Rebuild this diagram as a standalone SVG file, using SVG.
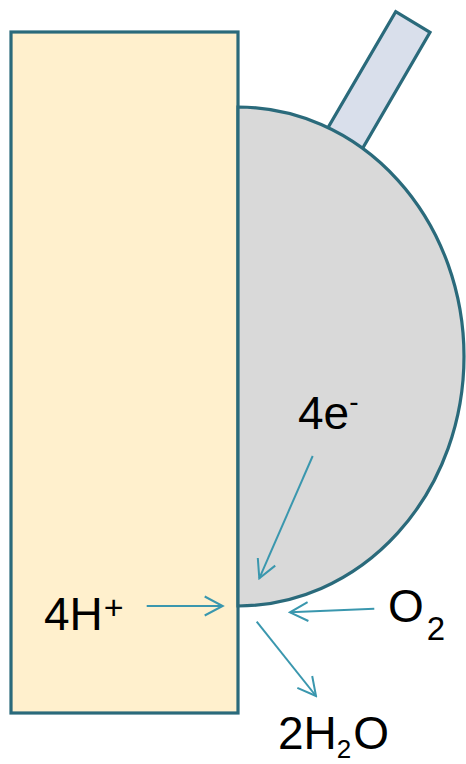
<svg xmlns="http://www.w3.org/2000/svg" width="466" height="764" viewBox="0 0 466 764">
<defs>
<style>
.shape{stroke:#2a6a7b;stroke-width:3.2;stroke-linejoin:miter}
.arr{stroke:#3a97ae;stroke-width:2;fill:none}
text{font-family:"Liberation Sans",Arial,sans-serif;font-size:46px;fill:#000}
</style>
<marker id="ah" markerUnits="userSpaceOnUse" markerWidth="22" markerHeight="22" viewBox="0 0 22 22" refX="20" refY="11" orient="auto">
<path d="M2,1.5 L20,11 L2,20.5" fill="none" stroke="#3a97ae" stroke-width="2"/>
</marker>
</defs>
<g id="electrolyte">
<rect class="shape" x="11" y="32" width="227" height="681" fill="#fff0cd"/>
</g>
<g id="tube">
<polygon class="shape" points="395.7,11.7 430,32.3 350,170 315,150" fill="#d9dfeb"/>
</g>
<g id="particle">
<path class="shape" d="M238,107 A226,249.5 0 0 1 238,606 Z" fill="#d9d9d9"/>
</g>
<g id="connectors">
<line class="arr" x1="312.7" y1="456" x2="259.3" y2="578.3" marker-end="url(#ah)"/>
<line class="arr" x1="146.7" y1="606" x2="222.7" y2="606" marker-end="url(#ah)"/>
<line class="arr" x1="374.3" y1="608.7" x2="290" y2="612.3" marker-end="url(#ah)"/>
<line class="arr" x1="256.7" y1="621.7" x2="316" y2="696" marker-end="url(#ah)"/>
</g>
<g id="label-e">
<text x="298" y="429">4e<tspan font-size="28" dy="-18">-</tspan></text>
</g>
<g id="label-h">
<text x="44" y="630">4H<tspan font-size="34" dx="1" dy="-11">+</tspan></text>
</g>
<g id="label-o2">
<text x="388" y="622" font-size="40">O<tspan font-size="33" dx="3" dy="18">2</tspan></text>
</g>
<g id="label-h2o">
<text x="278" y="749">2H<tspan font-size="26" dy="9">2</tspan><tspan dx="2" dy="-9">O</tspan></text>
</g>
</svg>
